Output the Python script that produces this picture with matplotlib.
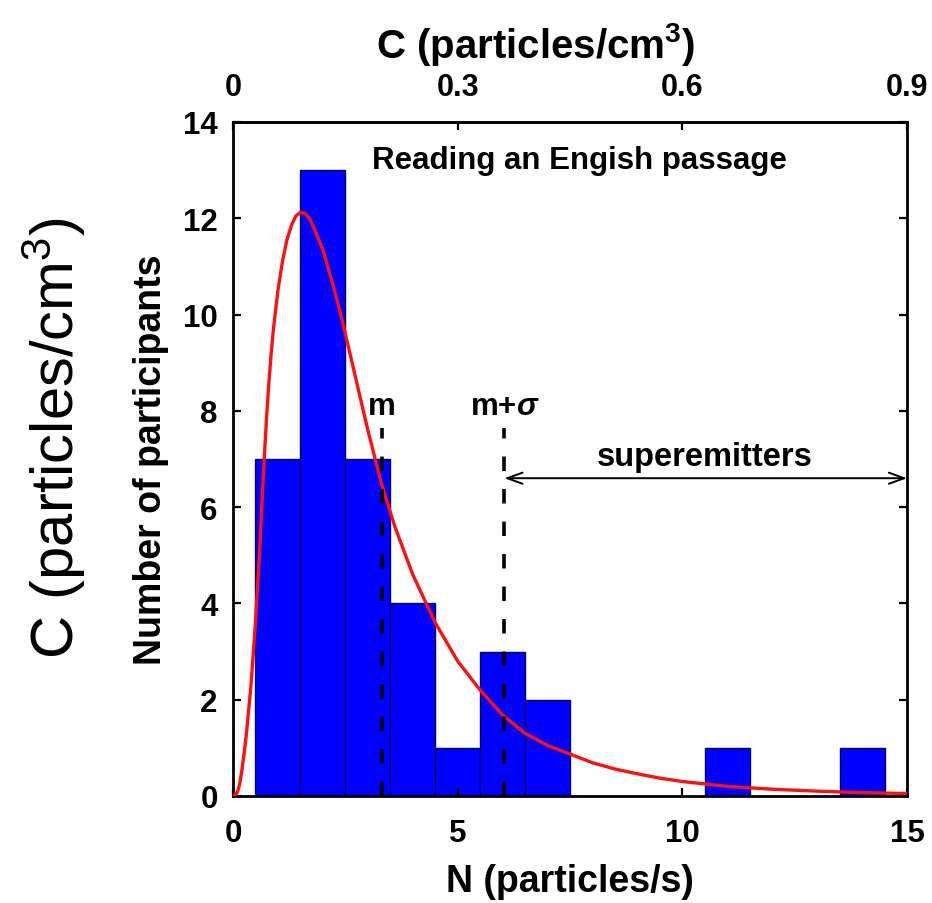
import matplotlib.pyplot as plt
import numpy as np

# histogram: left edge of each 1-wide bin and participant counts
bin_left = [0.5, 1.5, 2.5, 3.5, 4.5, 5.5, 6.5, 10.5, 13.5]
counts = [7, 13, 7, 4, 1, 3, 2, 1, 1]

# red fit curve
fit_n = [0.0, 0.05, 0.1, 0.15, 0.2, 0.25, 0.3, 0.4, 0.5, 0.6, 0.65, 0.7,
         0.75, 0.8, 0.85, 0.9, 0.95, 1.0, 1.1, 1.2, 1.3, 1.4, 1.5, 1.6,
         1.7, 1.8, 2.0, 2.2, 2.4, 2.6, 2.8, 3.0, 3.3, 3.6, 4.0, 4.5, 5.0,
         5.5, 6.0, 6.5, 7.0, 7.5, 8.0, 8.5, 9.0, 9.5, 10.0, 11.0, 12.0,
         13.0, 14.0, 15.0]
fit_count = [0.0, 0.02, 0.08, 0.25, 0.55, 0.9, 1.3, 2.3, 3.6, 5.2, 6.2, 7.1,
             7.9, 8.6, 9.2, 9.7, 10.1, 10.5, 11.1, 11.55, 11.85, 12.05,
             12.12, 12.1, 12.0, 11.8, 11.35, 10.7, 10.0, 9.2, 8.4, 7.6, 6.5,
             5.6, 4.6, 3.6, 2.8, 2.2, 1.68, 1.3, 1.05, 0.87, 0.69, 0.56,
             0.46, 0.37, 0.30, 0.20, 0.14, 0.10, 0.07, 0.05]

m_val = 3.32          # mean
m_sigma_val = 6.04    # mean + sigma
c_per_n = 0.06        # top axis conversion N -> C
c_ticks = [0, 0.3, 0.6, 0.9]
c_tick_labels = ["0", "0.3", "0.6", "0.9"]

plt.rcParams["font.family"] = ["Liberation Sans", "DejaVu Sans"]
plt.rcParams["mathtext.fontset"] = "custom"
plt.rcParams["mathtext.rm"] = "Liberation Sans"
plt.rcParams["mathtext.it"] = "Liberation Sans:italic:bold"
plt.rcParams["mathtext.bf"] = "Liberation Sans:bold"

fig = plt.figure(figsize=(9.32, 9.04), dpi=100)
ax = fig.add_axes([0.25, 0.1184, 0.7232, 0.7456])

ax.bar(bin_left, counts, width=1.0, align="edge", color="#0000ff",
       edgecolor="#00006e", linewidth=1.0, zorder=1)
ax.plot(fit_n, fit_count, color="#ff1010", linewidth=2.4, zorder=3,
        solid_joinstyle="round")
ax.vlines([m_val, m_sigma_val], 0, 7.65, colors="k", linewidth=2.6,
          linestyles=(0, (4, 5)), zorder=4)

ax.annotate("", xy=(15, 6.6), xytext=(m_sigma_val, 6.6),
            arrowprops=dict(arrowstyle="<->, head_length=1.1, head_width=0.4",
                            lw=1.4, color="k", shrinkA=0, shrinkB=0),
            zorder=5)

bold = dict(fontweight="bold", fontsize=22.5)
ax.text(m_val, 8.1, "m", ha="center", va="center", **bold)
ax.text(m_sigma_val, 8.1, r"m+$\mathit{\sigma}$", ha="center", va="center",
        **bold)
ax.text(10.5, 7.05, "superemitters", ha="center", va="center",
        fontweight="bold", fontsize=23.5)
ax.text(7.7, 13.2, "Reading an Engish passage", ha="center", va="center",
        **bold)

ax.set_xlim(0, 15)
ax.set_ylim(0, 14)
ax.set_xticks([0, 5, 10, 15])
ax.set_yticks(np.arange(0, 15, 2))
ax.tick_params(direction="in", length=6, width=1.6, labelsize=22.5,
               right=True, top=False)
ax.tick_params(axis="x", pad=16)
ax.tick_params(axis="y", pad=11)
for lab in ax.get_xticklabels() + ax.get_yticklabels():
    lab.set_fontweight("bold")
for sp in ax.spines.values():
    sp.set_linewidth(2.0)

ax.set_xlabel("N (particles/s)", fontsize=27, fontweight="bold", labelpad=11)
ax.set_ylabel("Number of participants", fontsize=27, fontweight="bold",
              labelpad=10)

top = ax.secondary_xaxis("top", functions=(lambda n: n * c_per_n,
                                           lambda c: c / c_per_n))
top.set_xticks(c_ticks)
top.set_xticklabels(c_tick_labels, fontweight="bold")
top.tick_params(direction="in", length=6, width=1.6, labelsize=22, pad=14)
top.spines["top"].set_linewidth(2.0)

# top axis title sits a little left of the axes centre in the original
fig.text(0.575, 0.951, r"C (particles/cm$^{\mathbf{3}}$)", fontsize=29,
         fontweight="bold", ha="center", va="center")

fig.text(0.0585, 0.515, r"C (particles/cm$^{3}$)", rotation=90, fontsize=43,
         ha="center", va="center")

fig.savefig("out.png", dpi=100)
